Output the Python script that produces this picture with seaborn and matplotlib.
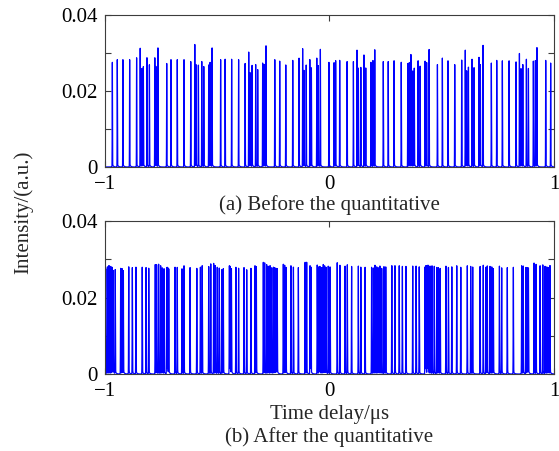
import numpy as np
import pandas as pd
import matplotlib
matplotlib.use("Agg")
import matplotlib.pyplot as plt
import seaborn as sns

# ---------------- data ----------------
top_times = [-0.966, -0.944, -0.919, -0.889, -0.858, -0.842, -0.835, -0.828, -0.812, -0.801,
             -0.777, -0.772, -0.763, -0.724, -0.705, -0.677, -0.647, -0.617, -0.599, -0.594,
             -0.583, -0.568, -0.559, -0.537, -0.531, -0.522, -0.484, -0.464, -0.435, -0.404,
             -0.375, -0.359, -0.353, -0.344, -0.328, -0.319, -0.297, -0.290, -0.282, -0.243,
             -0.221, -0.194, -0.163, -0.135, -0.119, -0.113, -0.103, -0.087, -0.080, -0.056,
             -0.049, -0.040, -0.002, 0.021, 0.028, 0.046, 0.079, 0.107, 0.123, 0.129,
             0.140, 0.154, 0.162, 0.185, 0.194, 0.202, 0.240, 0.262, 0.288, 0.320,
             0.349, 0.356, 0.363, 0.371, 0.378, 0.395, 0.404, 0.426, 0.433, 0.444,
             0.481, 0.503, 0.528, 0.558, 0.589, 0.605, 0.611, 0.619, 0.635, 0.644,
             0.666, 0.672, 0.684, 0.721, 0.745, 0.770, 0.800, 0.831, 0.846, 0.853,
             0.861, 0.877, 0.886, 0.908, 0.917, 0.924, 0.963, 0.985]
top_heights = [0.0268, 0.0275, 0.0275, 0.0275, 0.0280, 0.0305, 0.0250, 0.0255, 0.0280, 0.0260,
               0.0280, 0.0255, 0.0305, 0.0265, 0.0275, 0.0275, 0.0275, 0.0270, 0.0315, 0.0260,
               0.0260, 0.0270, 0.0255, 0.0260, 0.0265, 0.0305, 0.0275, 0.0275, 0.0275, 0.0275,
               0.0265, 0.0295, 0.0239, 0.0259, 0.0261, 0.0247, 0.0265, 0.0260, 0.0309, 0.0275,
               0.0270, 0.0260, 0.0272, 0.0279, 0.0304, 0.0244, 0.0259, 0.0274, 0.0251, 0.0278,
               0.0257, 0.0300, 0.0268, 0.0266, 0.0270, 0.0272, 0.0270, 0.0270, 0.0300, 0.0251,
               0.0253, 0.0286, 0.0251, 0.0267, 0.0272, 0.0300, 0.0270, 0.0270, 0.0271, 0.0267,
               0.0265, 0.0265, 0.0287, 0.0244, 0.0250, 0.0272, 0.0256, 0.0270, 0.0265, 0.0300,
               0.0261, 0.0278, 0.0272, 0.0262, 0.0274, 0.0300, 0.0244, 0.0254, 0.0276, 0.0252,
               0.0280, 0.0259, 0.0311, 0.0265, 0.0272, 0.0272, 0.0272, 0.0268, 0.0290, 0.0250,
               0.0261, 0.0276, 0.0250, 0.0270, 0.0272, 0.0304, 0.0272, 0.0265]

bot_times = [-0.996, -0.988, -0.981, -0.973, -0.967, -0.962, -0.953, -0.929, -0.923, -0.917,
             -0.893, -0.877, -0.861, -0.833, -0.816, -0.804, -0.775, -0.769, -0.760, -0.751,
             -0.744, -0.736, -0.724, -0.720, -0.715, -0.687, -0.677, -0.656, -0.647, -0.620,
             -0.590, -0.574, -0.566, -0.537, -0.528, -0.515, -0.508, -0.499, -0.490, -0.479,
             -0.472, -0.445, -0.441, -0.436, -0.416, -0.404, -0.380, -0.368, -0.349, -0.331,
             -0.325, -0.294, -0.288, -0.279, -0.272, -0.264, -0.257, -0.249, -0.243, -0.237,
             -0.232, -0.205, -0.199, -0.193, -0.171, -0.160, -0.138, -0.108, -0.101, -0.086,
             -0.082, -0.054, -0.047, -0.042, -0.034, -0.027, -0.021, -0.015, -0.005, 0.003,
             0.035, 0.047, 0.070, 0.080, 0.099, 0.129, 0.140, 0.159, 0.188, 0.196,
             0.203, 0.211, 0.218, 0.225, 0.233, 0.243, 0.251, 0.278, 0.292, 0.311,
             0.325, 0.341, 0.371, 0.386, 0.400, 0.426, 0.430, 0.436, 0.440, 0.448,
             0.457, 0.467, 0.478, 0.485, 0.493, 0.519, 0.530, 0.545, 0.567, 0.585,
             0.614, 0.629, 0.638, 0.671, 0.685, 0.697, 0.703, 0.715, 0.723, 0.730,
             0.757, 0.767, 0.792, 0.819, 0.856, 0.863, 0.875, 0.881, 0.886, 0.911,
             0.920, 0.938, 0.950, 0.960, 0.968, 0.975, 0.982]
bot_heights = [0.0269, 0.0273, 0.0276, 0.0274, 0.0271, 0.0262, 0.0266, 0.0270, 0.0268, 0.0262,
               0.0274, 0.0272, 0.0273, 0.0273, 0.0272, 0.0270, 0.0280, 0.0278, 0.0280, 0.0276,
               0.0270, 0.0268, 0.0272, 0.0270, 0.0266, 0.0273, 0.0272, 0.0268, 0.0276, 0.0272,
               0.0270, 0.0273, 0.0276, 0.0274, 0.0281, 0.0282, 0.0276, 0.0272, 0.0270, 0.0266,
               0.0268, 0.0276, 0.0272, 0.0266, 0.0272, 0.0270, 0.0272, 0.0266, 0.0270, 0.0276,
               0.0272, 0.0285, 0.0282, 0.0278, 0.0274, 0.0276, 0.0270, 0.0272, 0.0270, 0.0268,
               0.0266, 0.0280, 0.0276, 0.0270, 0.0276, 0.0272, 0.0272, 0.0285, 0.0284, 0.0276,
               0.0270, 0.0278, 0.0272, 0.0272, 0.0270, 0.0278, 0.0274, 0.0270, 0.0275, 0.0272,
               0.0284, 0.0277, 0.0275, 0.0278, 0.0275, 0.0276, 0.0272, 0.0272, 0.0272, 0.0270,
               0.0276, 0.0272, 0.0270, 0.0274, 0.0268, 0.0273, 0.0272, 0.0277, 0.0276, 0.0276,
               0.0275, 0.0275, 0.0276, 0.0275, 0.0273, 0.0273, 0.0274, 0.0275, 0.0274, 0.0274,
               0.0275, 0.0274, 0.0272, 0.0270, 0.0268, 0.0275, 0.0272, 0.0273, 0.0276, 0.0272,
               0.0276, 0.0275, 0.0272, 0.0275, 0.0278, 0.0272, 0.0274, 0.0274, 0.0272, 0.0268,
               0.0275, 0.0270, 0.0272, 0.0272, 0.0276, 0.0275, 0.0272, 0.0270, 0.0268, 0.0284,
               0.0279, 0.0276, 0.0278, 0.0274, 0.0272, 0.0270, 0.0276]

x_ticks = [-1, 0, 1]
x_tick_labels = ["\u22121", "0", "1"]
y_major_ticks = [0, 0.02, 0.04]
y_minor_ticks = [0.01, 0.03]
y_tick_labels = ["0", "0.02", "0.04"]
panel_titles = ["(a) Before the quantitative", "(b) After the quantitative"]
x_label = "Time delay/\u03bcs"
y_label = "Intensity/(a.u.)"


def build_trace(times, heights, width, tail):
    t = np.linspace(-1, 1, 40001)
    y = np.zeros_like(t)
    for t0, h in zip(times, heights):
        y += h * np.exp(-((t - t0) / width) ** 2)
        d = t - t0
        m = (d > 0) & (d < 0.03)
        y[m] += tail * np.exp(-d[m] / 0.004)
    return pd.DataFrame({"t": t, "I": y})


# ---------------- style ----------------
sns.set_theme(style="ticks")
plt.rcParams["font.family"] = ["Liberation Serif", "DejaVu Serif"]

fig = plt.figure(figsize=(5.59, 4.51), dpi=100)
ax_top = fig.add_axes([0.1873, 0.6297, 0.8038, 0.3377])
ax_bot = fig.add_axes([0.1873, 0.1707, 0.8038, 0.3392])

frames = [build_trace(top_times, top_heights, 0.0008, 0.0008),
          build_trace(bot_times, bot_heights, 0.0010, 0.0007)]

spine_col = "#3c3c3c"
for ax, df in zip([ax_top, ax_bot], frames):
    sns.lineplot(data=df, x="t", y="I", ax=ax, color="#0000ff", linewidth=0.9,
                 estimator=None, sort=False)
    ax.set_xlim(-1, 1)
    ax.set_ylim(0, 0.04)
    ax.set_xticks(x_ticks)
    ax.set_xticklabels(x_tick_labels)
    ax.set_yticks(y_major_ticks)
    ax.set_yticks(y_minor_ticks, minor=True)
    ax.set_yticklabels(y_tick_labels)
    ax.set_xlabel("")
    ax.set_ylabel("")
    for s in ax.spines.values():
        s.set_visible(True)
        s.set_color(spine_col)
        s.set_linewidth(0.8)
    ax.tick_params(which="both", direction="in", length=4, width=0.8, color=spine_col,
                   top=True, right=True, labelsize=15, labelcolor="black")
    ax.tick_params(axis="x", pad=6)
    ax.tick_params(axis="y", pad=5)
    ax.set_facecolor("white")

fig.text(0.589, 0.546, panel_titles[0], ha="center", va="center", fontsize=15)
fig.text(0.589, 0.081, x_label, ha="center", va="center", fontsize=15)
fig.text(0.589, 0.030, panel_titles[1], ha="center", va="center", fontsize=15)
fig.text(0.042, 0.53, y_label, ha="center", va="center", rotation=90, fontsize=15)

fig.savefig("out.png", dpi=100, facecolor="white")
